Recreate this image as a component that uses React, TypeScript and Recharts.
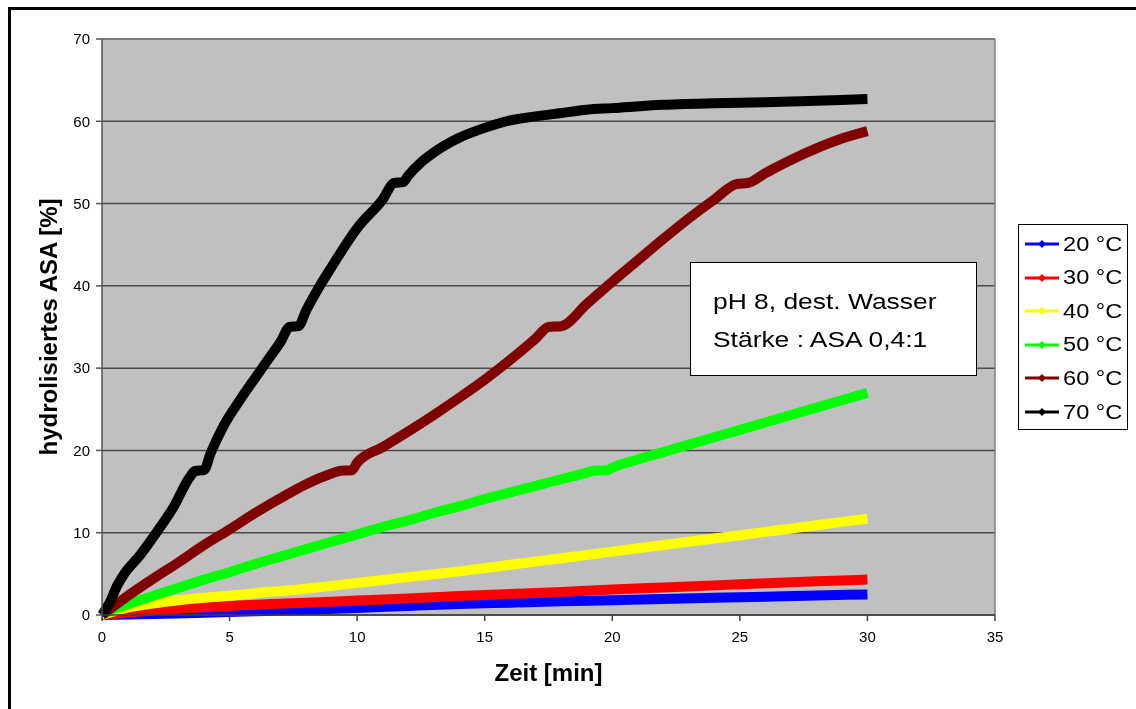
import React from 'react';
import { LineChart, Line, XAxis, YAxis, CartesianGrid, ReferenceLine, Label } from 'recharts';

const FONT = '"Liberation Sans", Arial, sans-serif';

// Zeit [min] / hydrolisiertes ASA [%] per temperature
const t20 = [0, 2, 4, 6, 8, 10, 12, 14, 16, 18, 20, 22, 24, 26, 28, 30];
const v20 = [0, 0.12, 0.28, 0.45, 0.65, 0.86, 1.1, 1.33, 1.5, 1.66, 1.8, 1.95, 2.1, 2.23, 2.37, 2.5];

const t30 = [0, 1, 2, 3, 4, 5, 6, 8, 10, 12, 14, 16, 18, 20, 22, 24, 26, 28, 30];
const v30 = [0, 0.3, 0.55, 0.75, 0.95, 1.1, 1.25, 1.5, 1.75, 2.0, 2.3, 2.55, 2.8, 3.1, 3.35, 3.6, 3.85, 4.1, 4.3];

const t40 = [0, 1, 2, 3, 4, 5, 6, 8, 10, 12, 14, 16, 18, 20, 22, 24, 26, 28, 30];
const v40 = [0, 0.9, 1.4, 1.8, 2.1, 2.35, 2.65, 3.2, 3.9, 4.6, 5.3, 6.1, 6.9, 7.7, 8.5, 9.3, 10.1, 10.9, 11.7];

const t50 = [0, 0.5, 1, 2, 3, 4, 5, 6, 7, 8, 9, 10, 11, 12, 13, 14, 15, 16, 17, 18, 19, 19.2, 19.8, 20, 21, 22, 23, 24, 25, 26, 27, 28, 29, 30];
const v50 = [0, 0.8, 1.3, 2.3, 3.3, 4.3, 5.2, 6.2, 7.1, 8.0, 8.9, 9.8, 10.7, 11.5, 12.4, 13.2, 14.1, 14.9, 15.7, 16.5, 17.3, 17.5, 17.6, 17.9, 18.9, 19.8, 20.7, 21.6, 22.5, 23.4, 24.3, 25.2, 26.1, 27.0];

const t60 = [0, 1, 2, 3, 4, 5, 6, 7, 8, 9, 9.3, 9.8, 10, 11, 12, 13, 14, 15, 16, 17, 17.5, 18, 19, 20, 21, 22, 23, 24, 24.9, 25.3, 26, 27, 28, 29, 30];
const v60 = [0, 2.3, 4.4, 6.4, 8.5, 10.4, 12.4, 14.2, 15.9, 17.2, 17.5, 17.6, 18.5, 20.4, 22.3, 24.3, 26.4, 28.6, 31.0, 33.6, 35, 35.1, 37.8, 40.5, 43.1, 45.7, 48.2, 50.5, 52.4, 52.5, 53.7, 55.3, 56.7, 57.9, 58.8];

const t70 = [0, 0.3, 0.6, 0.85, 1.5, 2.15, 2.8, 3.45, 3.65, 4.0, 4.25, 4.75, 5.4, 6, 6.5, 7, 7.35, 7.7, 8, 8.5, 9, 10, 11, 11.45, 11.8, 12, 12.5, 13, 14, 15, 16, 17, 18, 19, 20, 22, 24, 26, 28, 30];
const v70 = [0, 1.5, 3.6, 4.9, 7.3, 10.1, 13.1, 16.8, 17.5, 17.6, 19.6, 22.9, 26.1, 28.8, 31.0, 33.2, 35, 35.1, 37.0, 39.8, 42.3, 47.0, 50.5, 52.5, 52.6, 53.4, 55.0, 56.2, 58.0, 59.2, 60.1, 60.6, 61.0, 61.4, 61.6, 62.0, 62.2, 62.3, 62.5, 62.7];

const names = ['20 °C', '30 °C', '40 °C', '50 °C', '60 °C', '70 °C'];
const colors = ['#0000FF', '#FF0000', '#FFFF00', '#00FF00', '#800000', '#000000'];
const xTicks = [0, 5, 10, 15, 20, 25, 30, 35];
const yTicks = [0, 10, 20, 30, 40, 50, 60, 70];

const toRows = (ts: number[], vs: number[]) => ts.map((t, i) => ({ t, v: vs[i] }));
const series = [
  toRows(t20, v20),
  toRows(t30, v30),
  toRows(t40, v40),
  toRows(t50, v50),
  toRows(t60, v60),
  toRows(t70, v70),
];

function LegendBox() {
  return (
    <div
      style={{
        position: 'absolute', left: 1007, top: 215, width: 108, height: 204,
        border: '1px solid #000', background: '#fff',
      }}
    >
      {names.map((n, i) => (
        <div key={n} style={{ position: 'absolute', left: 6, top: 6 + i * 33.6, height: 26, display: 'flex', alignItems: 'center' }}>
          <svg width={34} height={12} style={{ flexShrink: 0 }}>
            <line x1={0} y1={6} x2={34} y2={6} stroke={colors[i]} strokeWidth={3} />
            <polygon points="17,2 21,6 17,10 13,6" fill={colors[i]} />
          </svg>
          <span style={{ fontSize: 20, marginLeft: 4, display: 'inline-block', transform: 'scaleX(1.18)', transformOrigin: 'left', whiteSpace: 'nowrap', color: '#000' }}>
            {n}
          </span>
        </div>
      ))}
    </div>
  );
}

function NoteBox() {
  const line = { fontSize: 22, display: 'inline-block', transform: 'scaleX(1.2)', transformOrigin: 'left', whiteSpace: 'nowrap' as const };
  return (
    <div
      style={{
        position: 'absolute', left: 679, top: 253, width: 285, height: 112,
        border: '1.5px solid #000', background: '#fff', color: '#000',
      }}
    >
      <div style={{ position: 'absolute', left: 22, top: 26 }}><span style={line}>pH 8, dest. Wasser</span></div>
      <div style={{ position: 'absolute', left: 22, top: 64 }}><span style={line}>Stärke : ASA 0,4:1</span></div>
    </div>
  );
}

export default function App() {
  return (
    <div style={{ position: 'relative', width: 1120, height: 690, fontFamily: FONT }}>
      {/* outer chart frame, cut off by the window on the right and bottom */}
      <div
        style={{
          position: 'fixed', left: 8, top: 7, width: 1200, height: 800,
          border: '3px solid #000', boxSizing: 'border-box', pointerEvents: 'none',
        }}
      />
      <div style={{ position: 'absolute', left: 3, top: 1 }}>
        <LineChart width={1117} height={691} margin={{ top: 30, right: 133, bottom: 55, left: 51 }}>
          <CartesianGrid vertical={false} fill="#C0C0C0" stroke="#4a4a4a" strokeWidth={1.5} strokeOpacity={1} />
          <XAxis
            dataKey="t"
            type="number"
            domain={[0, 35]}
            ticks={xTicks}
            height={30}
            tickSize={6}
            tickMargin={10}
            stroke="#404040"
            strokeWidth={1.5}
            tick={{ fill: '#000', fontSize: 15, fontFamily: FONT }}
            allowDuplicatedCategory={false}
          >
            <Label
              content={({ viewBox }: any) => (
                <text x={viewBox.x + viewBox.width / 2} y={672} textAnchor="middle" fontSize={24} fontWeight="bold" fontFamily={FONT} fill="#000">
                  Zeit [min]
                </text>
              )}
            />
          </XAxis>
          <YAxis
            dataKey="v"
            type="number"
            domain={[0, 70]}
            ticks={yTicks}
            width={40}
            tickSize={6}
            tickMargin={6}
            stroke="#555"
            strokeWidth={1.5}
            tick={{ fill: '#000', fontSize: 15, fontFamily: FONT }}
          >
            <Label
              content={() => (
                <text x={46} y={318} transform="rotate(-90 46 318)" textAnchor="middle" fontSize={24} fontWeight="bold" fontFamily={FONT} fill="#000">
                  hydrolisiertes ASA [%]
                </text>
              )}
            />
          </YAxis>
          <ReferenceLine x={35} stroke="#808080" strokeWidth={1.5} />
          <ReferenceLine y={70} stroke="#808080" strokeWidth={1.5} />
          {series.map((d, i) => (
            <Line
              key={names[i]}
              data={d}
              dataKey="v"
              name={names[i]}
              type="monotone"
              stroke={colors[i]}
              strokeWidth={10}
              strokeLinejoin="round"
              dot={false}
              activeDot={false}
              isAnimationActive={false}
            />
          ))}
        </LineChart>
      </div>
      <div style={{ position: 'absolute', left: 3, top: 1 }}>
        <LegendBox />
        <NoteBox />
      </div>
    </div>
  );
}
